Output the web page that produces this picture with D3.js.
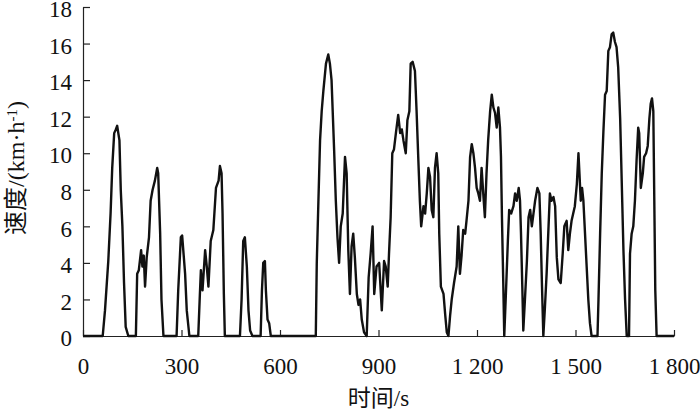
<!DOCTYPE html>
<html>
<head>
<meta charset="utf-8">
<script src="https://cdn.jsdelivr.net/npm/d3@7"></script>
<style>
  body { margin: 0; background: #fff; }
  text { font-family: "Liberation Serif", "Noto Sans CJK SC", serif; fill: #111; }
</style>
</head>
<body>
<svg id="chart" width="700" height="412"></svg>
<script>
// time (s) and speed (km/h)
const times = [
  0, 60, 67, 77, 84, 89, 95, 100, 104, 111, 115, 120, 125, 130, 138,
  161, 165, 170, 177, 181, 185, 189, 194, 201, 206, 212, 219, 226, 229, 235, 239, 245,
  285, 290, 298, 302, 311, 316, 324,
  351, 356, 359, 364, 372, 377, 382, 389, 397, 405, 413, 417, 422, 425, 429, 432,
  478, 483, 488, 493, 499, 504, 509, 516,
  541, 545, 549, 554, 557, 562, 567, 572,
  709, 712, 717, 722, 727, 732, 740, 747, 752, 757, 765, 770, 775, 780, 785, 791, 798, 803,
  808, 813, 818, 823, 828, 834, 839, 844, 849, 856, 864, 870, 876, 882, 887, 894, 902, 910,
  917, 922, 928, 932, 937, 942, 947, 953, 960, 966, 971, 976, 983, 988, 994, 998, 1004,
  1011, 1016, 1021, 1026, 1030, 1037, 1042, 1047, 1052, 1057, 1062, 1067, 1072, 1077, 1082,
  1085, 1090, 1098, 1103, 1108, 1113, 1118, 1123, 1130, 1138, 1143, 1148, 1153, 1158, 1164,
  1168, 1174, 1179, 1184, 1189, 1194, 1199, 1204, 1209, 1214, 1219, 1224, 1229, 1234, 1240,
  1245, 1250, 1255, 1260, 1265, 1270, 1273, 1276, 1280, 1283, 1288, 1294, 1298, 1304, 1311,
  1316, 1321, 1327, 1331, 1334, 1338, 1341, 1346, 1352, 1357, 1362, 1367, 1372, 1377, 1384,
  1390, 1394, 1398, 1402, 1407, 1412, 1417, 1422, 1427, 1433, 1438, 1443, 1448, 1455, 1461,
  1466, 1473, 1478, 1483, 1488, 1493, 1498, 1504, 1509, 1512, 1516, 1520, 1524, 1529, 1534,
  1539, 1544, 1549, 1567, 1570, 1575, 1580, 1585, 1590, 1595, 1600, 1605, 1610, 1615, 1620,
  1625, 1630, 1636, 1641, 1646, 1651, 1656, 1663, 1666, 1671, 1676, 1681, 1686, 1691, 1694,
  1699, 1705, 1709, 1715, 1720, 1725, 1729, 1733, 1737, 1740, 1743, 1747, 1800
];
const speeds = [
  0, 0, 1.4, 4.1, 6.7, 9.2, 11.1, 11.3, 11.5, 10.7, 8.0, 6.0, 2.9, 0.5, 0,
  0, 3.4, 3.6, 4.7, 3.8, 4.4, 2.7, 4.3, 5.4, 7.4, 8.0, 8.5, 9.2, 8.9, 5.6, 2.0, 0,
  0, 2.5, 5.4, 5.5, 3.4, 1.4, 0,
  0, 2.3, 3.6, 2.5, 4.7, 3.8, 2.7, 5.2, 5.8, 8.1, 8.5, 9.3, 8.9, 6.7, 2.3, 0,
  0, 2.0, 5.2, 5.4, 3.8, 1.4, 0.3, 0,
  0, 2.5, 4.0, 4.1, 2.5, 0.9, 0.7, 0,
  0, 4.0, 7.4, 10.7, 12.3, 13.4, 14.9, 15.4, 14.9, 14.0, 10.1, 7.4, 5.4, 4.0, 6.0, 6.7, 9.8, 8.9,
  4.7, 2.3, 4.9, 5.6, 4.3, 2.3, 1.7, 2.0, 0.9, 0.2, 0, 3.2, 4.5, 6.0, 2.3, 3.8, 4.0, 1.4,
  4.1, 3.8, 2.7, 4.5, 6.5, 10.0, 10.2, 11.1, 12.1, 11.1, 11.3, 10.7, 10.0, 11.8, 12.3, 14.9, 15.0,
  14.5, 12.3, 9.8, 7.4, 6.0, 7.1, 6.7, 7.8, 9.2, 8.7, 6.9, 6.5, 9.2, 10.0, 8.9,
  5.6, 2.7, 2.3, 1.2, 0.2, 0, 1.1, 2.0, 2.9, 3.8, 6.0, 3.4, 4.4, 5.8, 5.6,
  6.3, 7.4, 9.8, 10.5, 10.0, 9.2, 8.1, 7.8, 7.4, 9.2, 7.8, 6.5, 8.9, 10.7, 12.3,
  13.2, 12.5, 12.2, 11.4, 12.5, 11.4, 9.8, 6.5, 2.9, 0, 2.3, 5.2, 6.9, 6.7, 7.1,
  7.8, 7.4, 8.1, 7.4, 5.6, 2.7, 0.3, 2.0, 4.1, 6.5, 6.9, 6.0, 6.7, 7.4, 8.1,
  7.8, 5.6, 2.7, 0, 1.6, 3.4, 5.6, 7.8, 7.4, 7.6, 7.1, 4.3, 3.1, 2.9, 4.5,
  6.0, 6.3, 4.7, 5.6, 6.3, 6.7, 7.1, 8.3, 10.0, 8.9, 7.4, 8.1, 7.4, 5.6, 3.8,
  2.0, 0.7, 0, 0, 2.0, 5.6, 8.9, 11.2, 13.2, 13.4, 15.6, 15.8, 16.5, 16.6, 16.1,
  15.8, 14.7, 11.9, 8.3, 4.7, 2.0, 0, 0, 4.5, 5.6, 6.0, 7.4, 9.6, 11.4, 11.1,
  8.1, 8.9, 9.8, 10.0, 10.4, 11.9, 12.7, 13.0, 12.3, 7.4, 2.5, 0, 0
];

const xTicks = [0, 300, 600, 900, 1200, 1500, 1800];
const xTickLabels = ["0", "300", "600", "900", "1 200", "1 500", "1 800"];
const yTicks = [0, 2, 4, 6, 8, 10, 12, 14, 16, 18];

const margin = { top: 7, right: 26, bottom: 76, left: 83 };
const width = 700 - margin.left - margin.right;
const height = 412 - margin.top - margin.bottom;

const svg = d3.select("#chart");
const g = svg.append("g").attr("transform", `translate(${margin.left},${margin.top})`);

const x = d3.scaleLinear().domain([0, 1800]).range([0, width]);
const y = d3.scaleLinear().domain([0, 18]).range([height, 0]);

// axes: ticks point inward
const xAxis = d3.axisBottom(x)
  .tickValues(xTicks)
  .tickFormat((d, i) => xTickLabels[i])
  .tickSizeInner(-6)
  .tickSizeOuter(0)
  .tickPadding(22);

const yAxis = d3.axisLeft(y)
  .tickValues(yTicks)
  .tickSizeInner(-7)
  .tickSizeOuter(0)
  .tickPadding(11);

const gx = g.append("g").attr("transform", `translate(0,${height})`).call(xAxis);
const gy = g.append("g").call(yAxis);

[gx, gy].forEach(a => {
  a.select(".domain").attr("stroke", "#222").attr("stroke-width", 1.2);
  a.selectAll(".tick line").attr("stroke", "#222").attr("stroke-width", 1.2);
  a.selectAll(".tick text")
    .attr("fill", "#111")
    .style("font-family", '"Liberation Serif", serif')
    .style("font-size", "23px");
});
gy.selectAll(".tick text").attr("dy", "0.42em");

// the speed curve
const data = times.map((t, i) => ({ t: t, v: speeds[i] }));
const line = d3.line().x(d => x(d.t)).y(d => y(d.v));

g.append("path")
  .datum(data)
  .attr("fill", "none")
  .attr("stroke", "#111")
  .attr("stroke-width", 2.4)
  .attr("stroke-linejoin", "round")
  .attr("d", line);

// axis titles
svg.append("text")
  .attr("x", margin.left + width / 2)
  .attr("y", 406)
  .attr("text-anchor", "middle")
  .style("font-size", "23px")
  .text("时间/s");

const yTitle = svg.append("text")
  .attr("transform", "translate(24,168) rotate(-90)")
  .attr("text-anchor", "middle")
  .style("font-size", "24px");
yTitle.append("tspan").text("速度/(km·h");
yTitle.append("tspan").attr("dy", "-0.45em").style("font-size", "15px").text("-1");
yTitle.append("tspan").attr("dy", "0.3em").text(")");
</script>
</body>
</html>
